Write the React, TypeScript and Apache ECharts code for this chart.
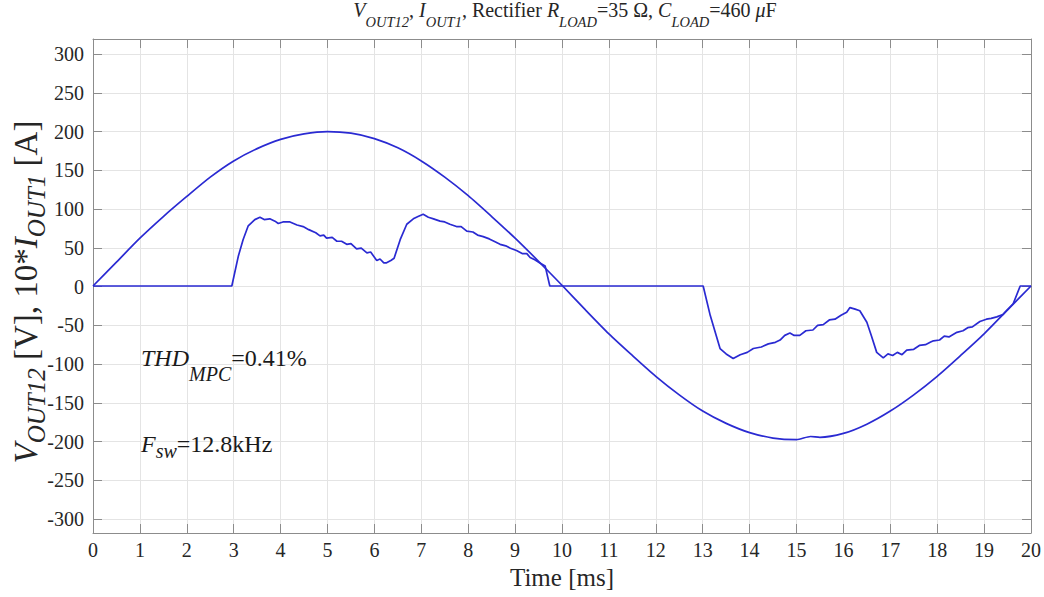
import React, { useEffect, useRef } from "react";
import * as echarts from "echarts";

const FONT = "'Liberation Serif', 'Times New Roman', serif";
const LINE_COLOR = "#2a2ad2";

// Output voltage V_OUT12 [V]
const timeV = [0, 0.5, 1, 1.5, 2, 2.5, 3, 3.5, 4, 4.5, 5, 5.5, 6, 6.5, 7, 7.5, 8, 8.5, 9, 9.5, 10,
  10.5, 11, 11.5, 12, 12.5, 13, 13.5, 14, 14.5, 15, 15.3, 15.5, 16, 16.5, 17, 17.5, 18, 18.5, 19, 19.5, 20];
const voltage = [0, 31, 62, 90, 116, 141, 162, 178, 190, 197, 200, 198, 191, 179, 162, 141, 117, 90, 62, 32, 1,
  -31, -62, -90, -117, -141, -162, -178, -190, -197, -199, -195, -196, -191, -179, -162, -141, -117, -90, -62, -31, 0];

// 10 * I_OUT1 [A]
const timeI = [0, 2.96, 3.1, 3.2, 3.31, 3.45, 3.56, 3.65, 3.77, 3.88, 3.95, 4.05, 4.2, 4.35, 4.48, 4.6, 4.75, 4.84,
  4.92, 4.98, 5.1, 5.2, 5.3, 5.41, 5.5, 5.62, 5.72, 5.84, 5.92, 6.05, 6.12, 6.2, 6.26, 6.35, 6.42, 6.55, 6.69, 6.83,
  6.93, 7.04, 7.15, 7.26, 7.4, 7.5, 7.61, 7.75, 7.85, 7.97, 8.1, 8.2, 8.32, 8.45, 8.55, 8.68, 8.8, 8.9, 9.03, 9.15,
  9.25, 9.32, 9.42, 9.52, 9.64, 9.74, 13.01, 13.16, 13.37, 13.5, 13.65, 13.8, 13.95, 14.08, 14.25, 14.4, 14.55,
  14.65, 14.75, 14.86, 14.95, 15.07, 15.2, 15.35, 15.45, 15.57, 15.7, 15.82, 15.95, 16.07, 16.14, 16.25, 16.35,
  16.5, 16.6, 16.71, 16.85, 16.95, 17.05, 17.15, 17.25, 17.35, 17.5, 17.62, 17.75, 17.85, 17.92, 18.05, 18.15,
  18.25, 18.42, 18.55, 18.65, 18.75, 18.91, 19.05, 19.15, 19.27, 19.4, 19.48, 19.62, 19.77, 20];
const current = [0, 0, 39, 60, 78, 86, 89, 86, 87, 84, 81, 83, 83, 79, 77, 73, 69, 65,
  66, 62, 63, 58, 58, 54, 55, 48, 49, 43, 44, 33, 35, 30, 30, 33, 36, 60, 80, 87,
  90, 93, 89, 87, 84, 83, 80, 77, 77, 71, 70, 66, 64, 61, 58, 54, 52, 49, 46, 42,
  42, 37, 34, 30, 26, 0, 0, -38, -81, -88, -94, -89, -86, -81, -79, -75, -73,
  -70, -64, -61, -64, -64, -58, -57, -51, -50, -44, -43, -38, -34, -28, -30, -32,
  -47, -65, -86, -93, -88, -90, -86, -89, -83, -82, -77, -76, -73, -71, -70, -65,
  -66, -60, -58, -54, -53, -46, -43, -42, -40, -37, -32, -23, 0, 0];

const X_MIN = 0;
const X_MAX = 20;
const X_STEP = 1;
const Y_TICK_MIN = -300;
const Y_TICK_MAX = 300;
const Y_TICK_STEP = 50;
const Y_VIEW_MIN = -320;
const Y_VIEW_MAX = 320;

const GRID_LEFT = 93;
const GRID_W = 938;

export default function App() {
  const ref = useRef<HTMLDivElement>(null);

  useEffect(() => {
    if (!ref.current) return;
    const chart = echarts.init(ref.current, undefined, { renderer: "svg" });

    const axisGray = "#8c8c8c";
    const gridGray = "#e4e4e4";
    const txt = "#262626";

    const richSet = (main: number, sub: number, mainLH: number, subLH: number, color: string) => ({
      n: { fontFamily: FONT, fontSize: main, lineHeight: mainLH, verticalAlign: "top", fill: color },
      i: { fontFamily: FONT, fontSize: main, fontStyle: "italic", lineHeight: mainLH, verticalAlign: "top", fill: color },
      s: { fontFamily: FONT, fontSize: sub, fontStyle: "italic", lineHeight: subLH, verticalAlign: "bottom", fill: color },
    });

    const option: any = {
      animation: false,
      backgroundColor: "#ffffff",
      textStyle: { fontFamily: FONT },
      grid: [
        { left: GRID_LEFT, top: 39, width: GRID_W, height: 494 },
        { left: GRID_LEFT, top: 54, width: GRID_W, height: 465 },
      ],
      xAxis: [
        {
          gridIndex: 0, type: "value", min: X_MIN, max: X_MAX, interval: X_STEP, position: "bottom",
          axisLine: { show: true, onZero: false, lineStyle: { color: axisGray, width: 1 } },
          axisTick: { show: true, inside: true, length: 9, lineStyle: { color: axisGray } },
          axisLabel: { show: true, fontFamily: FONT, fontSize: 20, color: txt, margin: 7 },
          splitLine: { show: true, lineStyle: { color: gridGray, width: 1 } },
          name: "Time [ms]", nameLocation: "middle", nameGap: 32,
          nameTextStyle: { fontFamily: FONT, fontSize: 25, color: txt },
        },
        {
          gridIndex: 0, type: "value", min: X_MIN, max: X_MAX, interval: X_STEP, position: "top",
          axisLine: { show: true, onZero: false, lineStyle: { color: axisGray, width: 1 } },
          axisTick: { show: true, inside: true, length: 9, lineStyle: { color: axisGray } },
          axisLabel: { show: false },
          splitLine: { show: false },
        },
        {
          gridIndex: 1, type: "value", min: X_MIN, max: X_MAX, show: false,
        },
      ],
      yAxis: [
        {
          gridIndex: 0, type: "value", min: Y_VIEW_MIN, max: Y_VIEW_MAX, position: "left",
          axisLine: { show: true, onZero: false, lineStyle: { color: axisGray, width: 1 } },
          axisTick: { show: false }, axisLabel: { show: false }, splitLine: { show: false },
        },
        {
          gridIndex: 0, type: "value", min: Y_VIEW_MIN, max: Y_VIEW_MAX, position: "right",
          axisLine: { show: true, onZero: false, lineStyle: { color: axisGray, width: 1 } },
          axisTick: { show: false }, axisLabel: { show: false }, splitLine: { show: false },
        },
        {
          gridIndex: 1, type: "value", min: Y_TICK_MIN, max: Y_TICK_MAX, interval: Y_TICK_STEP, position: "left",
          axisLine: { show: false },
          axisTick: { show: true, inside: true, length: 9, lineStyle: { color: axisGray } },
          axisLabel: { show: true, fontFamily: FONT, fontSize: 20, color: txt, margin: 9 },
          splitLine: { show: true, lineStyle: { color: gridGray, width: 1 } },
        },
        {
          gridIndex: 1, type: "value", min: Y_TICK_MIN, max: Y_TICK_MAX, interval: Y_TICK_STEP, position: "right",
          axisLine: { show: false },
          axisTick: { show: true, inside: true, length: 9, lineStyle: { color: axisGray } },
          axisLabel: { show: false },
          splitLine: { show: false },
        },
      ],
      series: [
        {
          type: "line", xAxisIndex: 0, yAxisIndex: 0, showSymbol: false, symbol: "none", smooth: 0.25,
          data: timeV.map((t, i) => [t, voltage[i]]),
          lineStyle: { color: LINE_COLOR, width: 1.7 }, z: 5,
        },
        {
          type: "line", xAxisIndex: 0, yAxisIndex: 0, showSymbol: false, symbol: "none",
          data: timeI.map((t, i) => [t, current[i]]),
          lineStyle: { color: LINE_COLOR, width: 1.7 }, z: 5,
        },
      ],
      graphic: {
        elements: [
          {
            type: "text", x: 565, y: 0, z: 10,
            style: {
              text: "{i|V}{s|OUT12}{n|, }{i|I}{s|OUT1}{n|, Rectifier }{i|R}{s|LOAD}{n|=35 Ω, }{i|C}{s|LOAD}{n|=460 }{i|μ}{n|F}",
              textAlign: "center", textVerticalAlign: "top",
              rich: richSet(20, 14.5, 20, 29, txt),
            },
          },
          {
            type: "text", x: 9, y: 292, rotation: Math.PI / 2, z: 10,
            style: {
              text: "{i|V}{s|OUT12}{n| [V], 10*}{i|I}{s|OUT1}{n| [A]}",
              textAlign: "center", textVerticalAlign: "top",
              rich: richSet(33, 25, 33, 40, txt),
            },
          },
          {
            type: "text", x: 141, y: 346, z: 10,
            style: {
              text: "{i|THD}{s|MPC}{n|=0.41%}",
              textAlign: "left", textVerticalAlign: "top",
              rich: richSet(24, 20, 24, 38, "#1a1a1a"),
            },
          },
          {
            type: "text", x: 141, y: 432, z: 10,
            style: {
              text: "{i|F}{s|sw}{n|=12.8kHz}",
              textAlign: "left", textVerticalAlign: "top",
              rich: richSet(24, 20, 24, 29, "#1a1a1a"),
            },
          },
        ],
      },
    };

    chart.setOption(option);
    return () => chart.dispose();
  }, []);

  return (
    <div
      ref={ref}
      style={{ position: "fixed", left: 0, top: 0, width: 1044, height: 597, background: "#fff" }}
    />
  );
}
